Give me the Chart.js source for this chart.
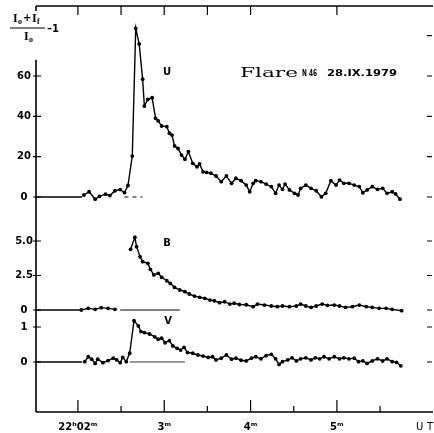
<!DOCTYPE html>
<html>
<head>
<meta charset="utf-8">
<script src="https://cdn.jsdelivr.net/npm/chart.js@4.4.0/dist/chart.umd.min.js"></script>
<style>
  html, body { margin: 0; padding: 0; background: #fff; }
</style>
</head>
<body>
<canvas id="chart" width="434" height="433"></canvas>
<script>
// Flare N 46, 28.IX.1979 - time in minutes after 22h00m UT

// U band
const uTime = [2.07, 2.13, 2.20, 2.25, 2.32, 2.37, 2.43, 2.49, 2.54, 2.58, 2.63, 2.67, 2.71, 2.75, 2.77,
  2.81, 2.86, 2.90, 2.93, 2.97, 3.03, 3.06, 3.09, 3.12, 3.16, 3.20, 3.24, 3.28, 3.33, 3.38, 3.41,
  3.45, 3.49, 3.54, 3.60, 3.66, 3.72, 3.78, 3.83, 3.89, 3.95, 3.99, 4.03, 4.06, 4.12, 4.18, 4.24,
  4.29, 4.33, 4.37, 4.40, 4.45, 4.51, 4.55, 4.58, 4.64, 4.70, 4.76, 4.82, 4.87, 4.93, 4.99, 5.03,
  5.08, 5.14, 5.20, 5.26, 5.30, 5.35, 5.41, 5.47, 5.53, 5.58, 5.64, 5.68, 5.73];
const uValue = [1.0, 2.6, -1.1, 0.3, 1.4, 0.7, 3.1, 3.7, 2.2, 5.7, 20.3, 83.6, 75.9, 58.4, 45.1,
  48.4, 49.2, 39.0, 37.7, 35.2, 34.9, 31.6, 30.7, 25.3, 24.1, 20.8, 18.7, 22.5, 16.7, 15.0, 16.4,
  12.5, 12.2, 11.8, 10.4, 7.6, 10.4, 6.8, 9.3, 8.1, 5.9, 2.6, 6.8, 8.1, 7.6, 6.4, 5.1,
  1.8, 5.9, 3.8, 6.4, 3.5, 1.8, 1.0, 4.3, 5.9, 4.3, 3.1, 0.1, 1.8, 8.1, 5.9, 8.4,
  6.8, 6.8, 5.9, 5.1, 2.1, 3.5, 5.1, 3.8, 4.3, 1.8, 2.6, 1.5, -1.1];

// B band (null = gap in the record)
const bTime = [2.04, 2.12, 2.20, 2.27, 2.35, 2.43, 2.52, 2.61, 2.66, 2.68, 2.72, 2.75, 2.81, 2.84,
  2.88, 2.93, 2.97, 3.03, 3.07, 3.12, 3.18, 3.24, 3.29, 3.35, 3.41, 3.47, 3.53, 3.58, 3.64, 3.70,
  3.76, 3.81, 3.87, 3.95, 4.03, 4.08, 4.16, 4.24, 4.31, 4.37, 4.45, 4.53, 4.58, 4.64, 4.70, 4.76,
  4.83, 4.89, 4.97, 5.03, 5.10, 5.18, 5.26, 5.34, 5.41, 5.49, 5.57, 5.64, 5.75];
const bValue = [0.00, 0.12, 0.05, 0.17, 0.12, 0.05, null, 4.40, 5.27, 4.59, 3.86, 3.50, 3.38, 2.95,
  2.54, 2.66, 2.37, 2.12, 1.93, 1.64, 1.45, 1.33, 1.16, 1.01, 0.92, 0.85, 0.72, 0.67, 0.53, 0.60,
  0.43, 0.49, 0.40, 0.38, 0.24, 0.43, 0.36, 0.29, 0.24, 0.29, 0.24, 0.29, 0.43, 0.29, 0.19, 0.29,
  0.43, 0.34, 0.36, 0.29, 0.19, 0.24, 0.36, 0.24, 0.19, 0.12, 0.12, 0.05, -0.05];

// V band
const vTime = [2.08, 2.12, 2.16, 2.20, 2.23, 2.29, 2.35, 2.41, 2.45, 2.49, 2.52, 2.56, 2.60, 2.65,
  2.70, 2.73, 2.77, 2.83, 2.89, 2.93, 2.97, 3.01, 3.06, 3.10, 3.15, 3.19, 3.23, 3.27, 3.33, 3.39,
  3.45, 3.51, 3.56, 3.60, 3.66, 3.72, 3.78, 3.83, 3.89, 3.95, 4.01, 4.06, 4.12, 4.18, 4.24, 4.29,
  4.33, 4.37, 4.43, 4.48, 4.53, 4.58, 4.64, 4.70, 4.75, 4.80, 4.85, 4.91, 4.97, 5.03, 5.08, 5.14,
  5.20, 5.25, 5.30, 5.35, 5.41, 5.47, 5.53, 5.58, 5.64, 5.69, 5.74];
const vValue = [0.01, 0.15, 0.08, -0.04, 0.08, -0.02, 0.04, 0.11, 0.06, -0.02, 0.13, 0.01, 0.25, 1.18,
  1.03, 0.87, 0.84, 0.80, 0.72, 0.65, 0.68, 0.55, 0.61, 0.46, 0.39, 0.34, 0.42, 0.27, 0.25, 0.20,
  0.17, 0.13, 0.15, 0.06, 0.11, 0.20, 0.08, 0.11, 0.05, 0.03, 0.11, 0.15, 0.09, 0.18, 0.22, 0.09,
  -0.07, 0.01, 0.06, 0.12, 0.03, 0.09, 0.12, 0.06, 0.12, 0.09, 0.15, 0.09, 0.15, 0.09, 0.12, 0.09,
  0.11, 0.01, 0.03, -0.04, 0.03, 0.09, 0.03, 0.09, 0.01, -0.01, -0.11];

// zero-level lines drawn on the record: [from, to] in minutes
const uZeroSolid = [1.515, 2.05];
const uZeroDash = [2.54, 2.75];
const bZeroSolid = [1.515, 2.03];
const bZeroThin = [2.49, 3.18];
const vZeroSolid = [1.515, 2.05];
const vZeroThin = [2.60, 3.24];

// ticks
const xMajorTicks = [2, 3, 4, 5];
const xLabels = ['22ʰ02ᵐ', '3ᵐ', '4ᵐ', '5ᵐ'];
const xMinorTicks = [2.5, 3.5, 4.5, 5.5];
const topTicks = [2, 2.5, 3, 3.5, 4, 5];
const uTicks = [0, 20, 40, 60];
const uTickLabels = ['0', '20', '40', '60'];
const uRightTicks = [0, 20, 40, 60, 80];
const bTicks = [0, 2.5, 5];
const bTickLabels = ['0', '2.5', '5.0'];
const vTicks = [0, 1];
const vTickLabels = ['0', '1'];

const toXY = (ts, vs) => ts.map((t, i) => ({ x: t, y: vs[i] }));
const seg = (r) => [{ x: r[0], y: 0 }, { x: r[1], y: 0 }];

const labelFont = { family: 'DejaVu Sans', weight: 'bold', size: 10 };
const LABEL_CENTER = 24; // x of the y tick label centres
const PLOT_LEFT = 36;

const measureCtx = document.createElement('canvas').getContext('2d');
measureCtx.font = 'bold 10px "DejaVu Sans"';
const widest = labels => Math.max(...labels.map(s => measureCtx.measureText(s).width));

function curve(label, data, axis) {
  return {
    label, data, yAxisID: axis,
    borderColor: '#000', borderWidth: 1.4,
    pointRadius: 1.9, pointBorderWidth: 0, pointBackgroundColor: '#000',
    tension: 0, spanGaps: false,
  };
}

function zeroLine(r, axis, width, dash) {
  return {
    data: seg(r), yAxisID: axis,
    borderColor: '#000', borderWidth: width, borderDash: dash || [],
    pointRadius: 0,
  };
}

// all three y scales share the left edge; labels are mirrored back out of the plot
function yAxis(min, max, ticks, labels) {
  const w = widest(labels);
  return {
    type: 'linear', position: 'left', min, max,
    afterBuildTicks: s => { s.ticks = ticks.map(v => ({ value: v })); },
    afterFit: s => { s.width = 0; },
    grid: { display: false, drawTicks: false },
    border: { display: false },
    ticks: {
      mirror: true, crossAlign: 'center', padding: LABEL_CENTER - PLOT_LEFT - w / 2,
      color: '#000', font: labelFont, callback: (v, i) => labels[i]
    },
  };
}

// text squeezed or stretched to a given width
function fitText(ctx, s, x, y, w, font) {
  ctx.font = font;
  const m = ctx.measureText(s).width;
  ctx.save();
  ctx.translate(x, y);
  ctx.scale(w / m, 1);
  ctx.fillText(s, 0, 0);
  ctx.restore();
}

const frame = {
  id: 'frame',
  afterDraw(chart) {
    const { ctx, chartArea: a, scales } = chart;
    const { x, yU, yB, yV } = scales;
    ctx.save();
    ctx.strokeStyle = '#000';
    ctx.fillStyle = '#000';

    // axes
    ctx.lineWidth = 1.6;
    ctx.beginPath();
    ctx.moveTo(a.left, a.top); ctx.lineTo(a.right + 3, a.top);
    ctx.moveTo(a.left, a.top); ctx.lineTo(a.left, a.top + 5);
    ctx.moveTo(a.left, yU.getPixelForValue(68)); ctx.lineTo(a.left, a.bottom);
    ctx.moveTo(a.left, a.bottom); ctx.lineTo(a.right + 3, a.bottom);
    ctx.stroke();

    // tick marks, pointing inwards
    ctx.lineWidth = 1.2;
    ctx.beginPath();
    xMajorTicks.forEach(v => { const px = x.getPixelForValue(v); ctx.moveTo(px, a.bottom); ctx.lineTo(px, a.bottom - 12); });
    xMinorTicks.forEach(v => { const px = x.getPixelForValue(v); ctx.moveTo(px, a.bottom); ctx.lineTo(px, a.bottom - 6); });
    topTicks.forEach(v => { const px = x.getPixelForValue(v); ctx.moveTo(px, a.top); ctx.lineTo(px, a.top + 9); });
    [[yU, uTicks], [yB, bTicks], [yV, vTicks]].forEach(([s, ts]) => ts.forEach(v => {
      const py = s.getPixelForValue(v); ctx.moveTo(a.left - 3, py); ctx.lineTo(a.left + 5, py);
    }));
    [[yU, uRightTicks], [yB, bTicks], [yV, vTicks]].forEach(([s, ts]) => ts.forEach(v => {
      const py = s.getPixelForValue(v); ctx.moveTo(a.right - 3, py); ctx.lineTo(a.right + 2, py);
    }));
    ctx.stroke();

    // y title: (I0 + If) / I0 - 1
    ctx.textBaseline = 'alphabetic';
    ctx.textAlign = 'left';
    const big = 'bold 12px "Liberation Serif"', sub = 'bold 8px "Liberation Serif"';
    ctx.font = big; ctx.fillText('I', 13, 22);
    ctx.font = sub; ctx.fillText('o', 18, 24);
    ctx.font = 'bold 10px "DejaVu Sans"'; ctx.fillText('+', 23, 21);
    ctx.font = big; ctx.fillText('I', 32, 22);
    ctx.font = sub; ctx.fillText('f', 37, 24);
    ctx.font = big; ctx.fillText('I', 24, 40);
    ctx.font = sub; ctx.fillText('o', 29, 42);
    ctx.lineWidth = 1;
    ctx.beginPath(); ctx.moveTo(10, 28); ctx.lineTo(45, 28); ctx.stroke();
    ctx.font = 'bold 10px "DejaVu Sans"'; ctx.fillText('–1', 47, 32);

    // title
    fitText(ctx, 'Flare', 240, 77, 58, '12px "DejaVu Serif"');
    fitText(ctx, 'N 46', 302, 76, 15, 'bold 8px "DejaVu Sans"');
    fitText(ctx, '28.IX.1979', 327, 76, 70, 'bold 9px "DejaVu Sans"');

    // band names
    ctx.font = 'bold 10px "DejaVu Sans"';
    ctx.textAlign = 'center';
    ctx.textBaseline = 'middle';
    ctx.fillText('U', 167, 72);
    ctx.fillText('B', 167, 243);
    ctx.fillText('V', 168, 321);

    ctx.textAlign = 'left';
    ctx.font = '10px "DejaVu Sans"';
    ctx.fillText('U', 416, 427);
    ctx.fillText('T', 427, 427);
    ctx.restore();
  }
};

new Chart(document.getElementById('chart'), {
  type: 'line',
  data: {
    datasets: [
      curve('U', toXY(uTime, uValue), 'yU'),
      curve('B', toXY(bTime, bValue), 'yB'),
      curve('V', toXY(vTime, vValue), 'yV'),
      zeroLine(uZeroSolid, 'yU', 1.6),
      zeroLine(uZeroDash, 'yU', 1, [4, 4]),
      zeroLine(bZeroSolid, 'yB', 1.6),
      zeroLine(bZeroThin, 'yB', 1),
      zeroLine(vZeroSolid, 'yV', 1.6),
      zeroLine(vZeroThin, 'yV', 0.8),
    ]
  },
  options: {
    responsive: false,
    animation: false,
    devicePixelRatio: 1,
    layout: { padding: { left: PLOT_LEFT, right: 3, top: 6, bottom: 0 } },
    plugins: { legend: { display: false }, tooltip: { enabled: false } },
    scales: {
      x: {
        type: 'linear', position: 'bottom', min: 1.515, max: 6.078,
        afterBuildTicks: s => { s.ticks = xMajorTicks.map(v => ({ value: v })); },
        afterFit: s => { s.height = 21; },
        grid: { display: false, drawTicks: false },
        border: { display: false },
        ticks: { autoSkip: false, maxRotation: 0, padding: 9, color: '#000', font: labelFont,
          callback: (v, i) => xLabels[i] },
      },
      yU: yAxis(-106.6, 94.7, uTicks, uTickLabels),
      yB: yAxis(-7.39, 22.03, bTicks, bTickLabels),
      yV: yAxis(-1.429, 10.17, vTicks, vTickLabels),
    }
  },
  plugins: [frame]
});
</script>
</body>
</html>
